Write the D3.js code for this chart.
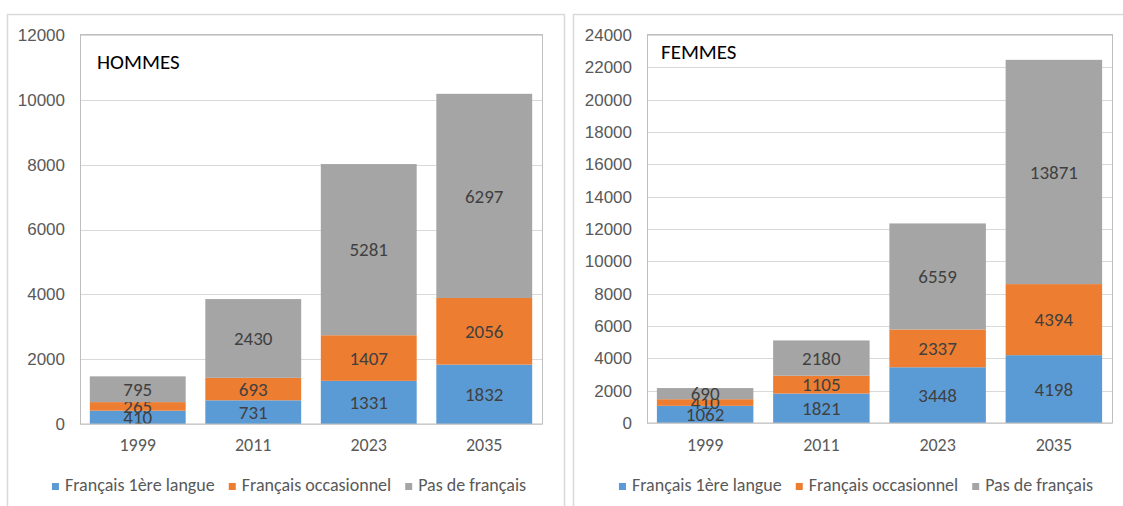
<!DOCTYPE html>
<meta charset="utf-8">
<style>
  body { margin: 0; background: #fff; }
  svg { font-family: Carlito, Calibri, "Liberation Sans", Arial, sans-serif; }
</style>
<body></body>
<script src="https://d3js.org/d3.v7.min.js"></script>
<script>

var years = ["1999", "2011", "2023", "2035"];
var seriesNames = ["Français 1ère langue", "Français occasionnel", "Pas de français"];
var colors = ["#5b9bd5", "#ed7d31", "#a5a5a5"];

var hommes1ere = [410, 731, 1331, 1832],
    hommesOccas = [265, 693, 1407, 2056],
    hommesPas = [795, 2430, 5281, 6297];

var femmes1ere = [1062, 1821, 3448, 4198],
    femmesOccas = [410, 1105, 2337, 4394],
    femmesPas = [690, 2180, 6559, 13871];

var hommesTicks = [0, 2000, 4000, 6000, 8000, 10000, 12000];
var femmesTicks = d3.range(0, 24001, 2000);

var svg = d3.select("body").append("svg")
    .attr("width", 1123)
    .attr("height", 506);

function drawPanel(opts) {
  var g = svg.append("g");

  // outer chart frame
  g.append("rect")
      .attr("x", opts.frame[0] + 0.5)
      .attr("y", 14.5)
      .attr("width", opts.frame[1] - opts.frame[0])
      .attr("height", 520)
      .attr("fill", "none")
      .attr("stroke", "#d9d9d9")
      .attr("stroke-width", 1.5);

  var x = d3.scaleBand()
      .domain(years)
      .range([opts.plot[0], opts.plot[1]])
      .paddingInner(0.17)
      .paddingOuter(0.085);

  var y = d3.scaleLinear()
      .domain([0, opts.max])
      .range([opts.bottom, 35]);

  // gridlines
  g.selectAll(".grid")
      .data(opts.ticks)
    .enter().append("line")
      .attr("x1", opts.plot[0])
      .attr("x2", opts.plot[1])
      .attr("y1", function(d) { return Math.round(y(d)) + 0.5; })
      .attr("y2", function(d) { return Math.round(y(d)) + 0.5; })
      .attr("stroke", "#d9d9d9");

  var yAxis = g.append("g")
      .attr("transform", "translate(" + (opts.plot[0] - 13) + ",0)")
      .call(d3.axisLeft(y).tickValues(opts.ticks).tickSize(0).tickPadding(2).tickFormat(d3.format("d")));
  yAxis.select(".domain").remove();
  yAxis.selectAll("text")
      .attr("fill", "#595959")
      .style("font-size", "17px");

  var rows = years.map(function(yr, i) {
    return { year: yr, a: opts.data[0][i], b: opts.data[1][i], c: opts.data[2][i] };
  });
  var stack = d3.stack().keys(["a", "b", "c"])(rows);

  var layers = g.selectAll(".layer")
      .data(stack)
    .enter().append("g")
      .attr("fill", function(d, i) { return colors[i]; });

  layers.selectAll("rect")
      .data(function(d) { return d; })
    .enter().append("rect")
      .attr("x", function(d) { return x(d.data.year); })
      .attr("width", x.bandwidth())
      .attr("y", function(d) { return y(d[1]); })
      .attr("height", function(d) { return y(d[0]) - y(d[1]); });

  layers.selectAll("text")
      .data(function(d) { return d; })
    .enter().append("text")
      .attr("x", function(d) { return x(d.data.year) + x.bandwidth() / 2; })
      .attr("y", function(d) { return (y(d[0]) + y(d[1])) / 2; })
      .attr("dy", "0.35em")
      .attr("text-anchor", "middle")
      .attr("fill", "#404040")
      .style("font-size", "19px")
      .text(function(d) { return d[1] - d[0]; });

  // plot area border
  g.append("rect")
      .attr("x", opts.plot[0] + 0.5)
      .attr("y", 34.5)
      .attr("width", opts.plot[1] - opts.plot[0])
      .attr("height", opts.bottom - 34.5)
      .attr("fill", "none")
      .attr("stroke", "#bfbfbf");

  // x labels
  g.selectAll(".xl")
      .data(years)
    .enter().append("text")
      .attr("x", function(d) { return x(d) + x.bandwidth() / 2; })
      .attr("y", 451)
      .attr("text-anchor", "middle")
      .attr("fill", "#595959")
      .style("font-size", "18px")
      .text(function(d) { return d; });

  g.append("text")
      .attr("x", opts.title[0])
      .attr("y", opts.title[1])
      .attr("fill", "#000")
      .style("font-size", "21px")
      .text(opts.titleText);

  // legend
  var leg = g.append("g");
  var items = leg.selectAll("g")
      .data(seriesNames)
    .enter().append("g");
  items.append("rect")
      .attr("width", 7)
      .attr("height", 7)
      .attr("y", -8)
      .attr("fill", function(d, i) { return colors[i]; });
  items.append("text")
      .attr("x", 13)
      .attr("fill", "#595959")
      .style("font-size", "18px")
      .text(function(d) { return d; });
  var pos = 0;
  items.each(function() {
    var w = this.querySelector("text").getComputedTextLength() + 13;
    d3.select(this).attr("transform", "translate(" + pos + ",0)");
    pos += w + 14;
  });
  pos -= 14;
  leg.attr("transform", "translate(" + (opts.legendCenter - pos / 2) + ",491)");
}

drawPanel({
  frame: [7, 564], plot: [80, 542], bottom: 424, max: 12000, ticks: hommesTicks,
  data: [hommes1ere, hommesOccas, hommesPas],
  title: [97, 69], titleText: "HOMMES", legendCenter: 289
});

drawPanel({
  frame: [573, 1130], plot: [647, 1112], bottom: 423, max: 24000, ticks: femmesTicks,
  data: [femmes1ere, femmesOccas, femmesPas],
  title: [661, 59], titleText: "FEMMES", legendCenter: 856
});

</script>
